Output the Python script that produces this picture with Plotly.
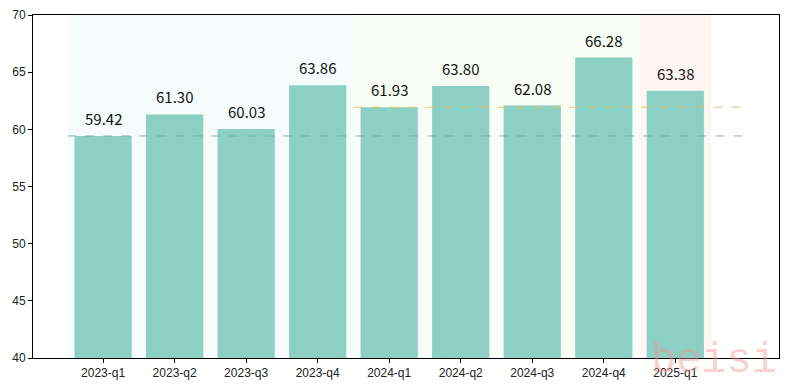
import plotly.graph_objects as go

quarters = ["2023-q1", "2023-q2", "2023-q3", "2023-q4",
            "2024-q1", "2024-q2", "2024-q3", "2024-q4", "2025-q1"]
values = [59.42, 61.30, 60.03, 63.86, 61.93, 63.80, 62.08, 66.28, 63.38]
y_ticks = [40, 45, 50, 55, 60, 65, 70]

# year spans (category index ranges) and reference lines
year_spans = [(-0.5, 3.5, "rgba(141,211,199,0.08)"),
              (3.5, 7.5, "rgba(200,240,180,0.12)"),
              (7.5, 8.5, "rgba(251,128,114,0.08)")]
ref_lines = [(-0.5, 9.0, values[0], "rgba(110,165,155,0.8)"),
             (3.5, 9.0, values[4], "rgba(225,190,110,0.9)")]

fig = go.Figure()
fig.add_trace(go.Bar(
    x=quarters, y=values, width=0.8,
    marker=dict(color="#8ccfc3", line=dict(width=0)),
    hoverinfo="x+y",
))

shapes = []
for x0, x1, c in year_spans:
    shapes.append(dict(type="rect", xref="x", yref="paper", x0=x0, x1=x1,
                       y0=0, y1=1, fillcolor=c, line=dict(width=0), layer="below"))
for x0, x1, yv, c in ref_lines:
    shapes.append(dict(type="line", xref="x", yref="y", x0=x0, x1=x1,
                       y0=yv, y1=yv, line=dict(color=c, width=1, dash="dash"),
                       layer="above"))

annotations = []
for q, v in zip(quarters, values):
    annotations.append(dict(x=q, y=v, xref="x", yref="y", text=f"{v:.2f}",
                            showarrow=False, yanchor="bottom", yshift=5,
                            font=dict(family="Noto Sans CJK SC", size=15, color="#111")))
annotations.append(dict(x=1.0, y=-0.085, xref="paper", yref="paper", text="beisi",
                        showarrow=False, xanchor="right", yanchor="bottom",
                        font=dict(family="Liberation Mono", size=42,
                                  color="rgba(240,150,150,0.45)")))

fig.update_layout(
    width=790, height=390,
    margin=dict(l=33, r=11, t=15, b=32, autoexpand=False),
    paper_bgcolor="white", plot_bgcolor="white",
    showlegend=False,
    shapes=shapes, annotations=annotations,
    font=dict(family="Liberation Sans", size=12, color="#222"),
)
fig.update_xaxes(
    type="category", range=[-0.98, 9.45], automargin=False,
    showline=True, linecolor="black", linewidth=1, mirror=True,
    ticks="outside", ticklen=4, tickcolor="black",
    showgrid=False, tickfont=dict(size=12, color="#222"),
)
fig.update_yaxes(
    range=[40, 70], tickvals=y_ticks, automargin=False,
    showline=True, linecolor="black", linewidth=1, mirror=True,
    ticks="outside", ticklen=4, tickcolor="black",
    showgrid=False, zeroline=False, tickfont=dict(size=12, color="#222"),
)

fig.write_html("out.html", config={"displayModeBar": False},
               post_script="document.body.style.margin='0';")
